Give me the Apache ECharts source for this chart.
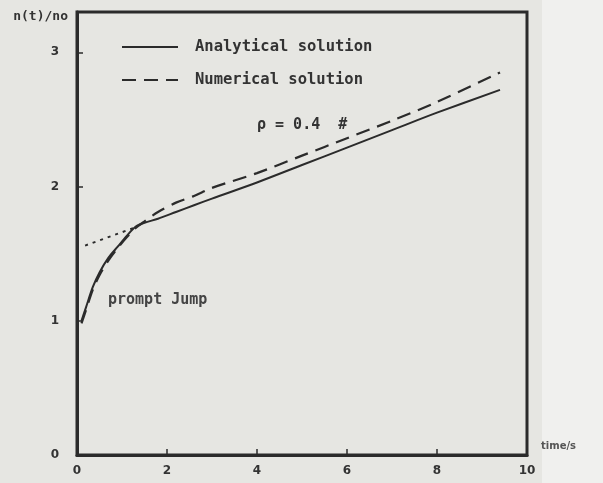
<!DOCTYPE html>
<html><head><meta charset="utf-8">
<script src="https://cdn.jsdelivr.net/npm/echarts@6/dist/echarts.min.js"></script>
<style>html,body{margin:0;padding:0;background:#e6e6e2;}#c{width:603px;height:483px;}</style>
</head><body><div id="c"></div>
<script>
// data
var tAnalytical = [0.1, 0.2, 0.35, 0.5, 0.7, 0.9, 1.1, 1.3, 1.5, 1.8, 2.2, 2.6, 3.0, 4.0, 5.0, 6.0, 7.0, 8.0, 9.4];
var yAnalytical = [1.00, 1.10, 1.25, 1.36, 1.47, 1.55, 1.63, 1.70, 1.73, 1.76, 1.81, 1.86, 1.91, 2.03, 2.16, 2.29, 2.42, 2.55, 2.72];
var tNumerical = [0.1, 0.2, 0.35, 0.5, 0.7, 0.9, 1.1, 1.3, 1.5, 1.8, 2.2, 2.6, 3.0, 4.0, 5.0, 6.0, 7.0, 8.0, 9.4];
var yNumerical = [0.98, 1.08, 1.23, 1.34, 1.45, 1.54, 1.62, 1.69, 1.74, 1.81, 1.88, 1.93, 1.99, 2.10, 2.23, 2.36, 2.49, 2.63, 2.85];
var tAsymptote = [0.18, 1.25];
var yAsymptote = [1.56, 1.69];
var seriesNames = ['Analytical solution', 'Numerical solution'];
var xTicks = [0, 2, 4, 6, 8, 10];
var yTicks = [0, 1, 2, 3];

function zip(a, b) { return a.map(function (v, i) { return [v, b[i]]; }); }

var ink = '#2b2b2b';
var mono = '"DejaVu Sans Mono"';
var chart = echarts.init(document.getElementById('c'));
chart.setOption({
  backgroundColor: '#e6e6e2',
  animation: false,
  grid: { left: 77, right: 76, top: 12, bottom: 28, show: true, borderColor: ink, borderWidth: 3, backgroundColor: 'transparent' },
  legend: {
    orient: 'vertical', left: 116, top: 34, itemWidth: 56, itemHeight: 14, itemGap: 17,
    data: seriesNames,
    itemStyle: { opacity: 0 },
    textStyle: { fontFamily: 'DejaVu Sans Mono', fontWeight: 'bold', fontSize: 15.5, color: '#333', padding: [0, 0, 0, 12] }
  },
  xAxis: {
    type: 'value', min: 0, max: 10, interval: 2,
    name: 'time/s', nameLocation: 'end', nameGap: 14,
    nameTextStyle: { fontFamily: 'DejaVu Sans', fontWeight: 'bold', fontSize: 10, color: '#555', verticalAlign: 'bottom', padding: [0, 0, 4, 0] },
    axisLine: { lineStyle: { color: ink, width: 3 } },
    axisTick: { inside: true, length: 6, lineStyle: { color: ink, width: 1.5 } },
    splitLine: { show: false },
    axisLabel: { margin: 10, fontFamily: 'DejaVu Sans', fontWeight: 'bold', fontSize: 12, color: '#333',
      formatter: function (v) { return xTicks.indexOf(v) >= 0 ? String(v) : ''; } }
  },
  yAxis: {
    type: 'value', min: 0, max: 3.3, interval: 1,
    name: 'n(t)/no', nameLocation: 'end', nameGap: -5,
    nameTextStyle: { fontFamily: 'DejaVu Sans Mono', fontWeight: 'bold', fontSize: 13, color: '#333', align: 'right', verticalAlign: 'middle', padding: [0, 9, 0, 0] },
    axisLine: { lineStyle: { color: ink, width: 3 } },
    axisTick: { inside: true, length: 6, lineStyle: { color: ink, width: 1.5 } },
    splitLine: { show: false },
    axisLabel: { margin: 18, fontFamily: 'DejaVu Sans', fontWeight: 'bold', fontSize: 12, color: '#333',
      formatter: function (v) { return yTicks.indexOf(v) >= 0 ? String(v) : ''; } }
  },
  series: [
    { name: seriesNames[0], type: 'line', data: zip(tAnalytical, yAnalytical), smooth: 0.3, showSymbol: false, symbol: 'none',
      lineStyle: { color: ink, width: 2 }, itemStyle: { color: ink } },
    { name: seriesNames[1], type: 'line', data: zip(tNumerical, yNumerical), smooth: 0.3, showSymbol: false, symbol: 'none',
      lineStyle: { color: ink, width: 2.2, type: [14, 8] }, itemStyle: { color: ink } },
    { name: 'asymptote', type: 'line', data: zip(tAsymptote, yAsymptote), showSymbol: false, symbol: 'none',
      lineStyle: { color: ink, width: 2, type: [3, 5] } }
  ],
  graphic: [
    { type: 'rect', left: 542, top: 0, shape: { width: 61, height: 483 }, style: { fill: '#f0f0ee' }, z: -10 },
    { type: 'text', left: 257, top: 118, style: { text: 'ρ = 0.4  #', font: 'bold 15px ' + mono, fill: '#333' } },
    { type: 'text', left: 108, top: 293, style: { text: 'prompt Jump', font: 'bold 15px ' + mono, fill: '#444' } }
  ]
});
</script></body></html>
